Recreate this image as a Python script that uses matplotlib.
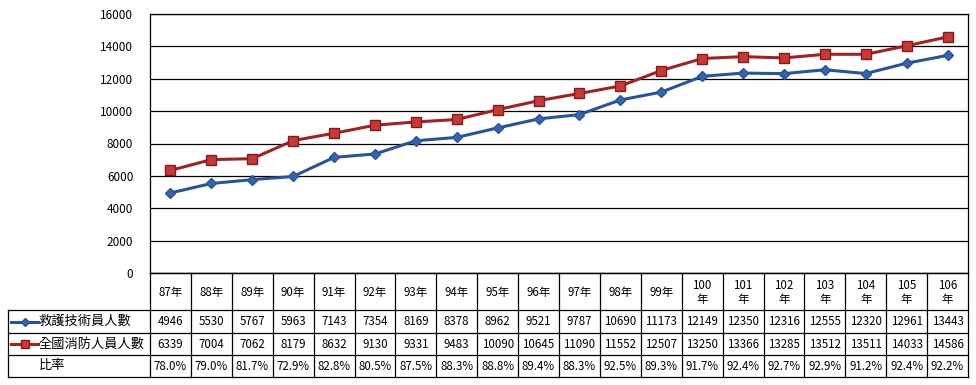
import matplotlib.pyplot as plt
from matplotlib.lines import Line2D

plt.rcParams['font.family'] = ['Noto Sans CJK TC', 'DejaVu Sans']

years = ['87年', '88年', '89年', '90年', '91年', '92年', '93年', '94年', '95年', '96年',
         '97年', '98年', '99年', '100\n年', '101\n年', '102\n年', '103\n年', '104\n年',
         '105\n年', '106\n年']
rescue = [4946, 5530, 5767, 5963, 7143, 7354, 8169, 8378, 8962, 9521,
          9787, 10690, 11173, 12149, 12350, 12316, 12555, 12320, 12961, 13443]
fire = [6339, 7004, 7062, 8179, 8632, 9130, 9331, 9483, 10090, 10645,
        11090, 11552, 12507, 13250, 13366, 13285, 13512, 13511, 14033, 14586]
ratio = ['78.0%', '79.0%', '81.7%', '72.9%', '82.8%', '80.5%', '87.5%', '88.3%', '88.8%', '89.4%',
         '88.3%', '92.5%', '89.3%', '91.7%', '92.4%', '92.7%', '92.9%', '91.2%', '92.4%', '92.2%']
series_names = ['救護技術員人數', '全國消防人員人數', '比率']

W, H = 976, 385
left, right, top, bottom = 150, 968, 14, 273
blue = '#2a5496'
red = '#9c2424'

fig = plt.figure(figsize=(W / 100, H / 100), dpi=100)
ax = fig.add_axes([left / W, 1 - bottom / H, (right - left) / W, (bottom - top) / H])

x = list(range(len(years)))
ax.plot(x, rescue, color=blue, lw=2.2, marker='D', ms=5,
        mfc='#3565ad', mec=blue, zorder=3)
ax.plot(x, fire, color=red, lw=2.2, marker='s', ms=7,
        mfc='#c23a3a', mec='#8a1a1a', zorder=3)

ax.set_xlim(-0.5, len(years) - 0.5)
ax.set_ylim(0, 16000)
ax.set_yticks(range(0, 16001, 2000))
ax.set_xticks([])
ax.tick_params(axis='y', length=0, labelsize=8.5, pad=12)
ax.grid(axis='y', color='black', lw=0.9)
for s in ax.spines.values():
    s.set_color('black')
    s.set_linewidth(0.9)

# data table under the plot, in pixel coordinates
tab = fig.add_axes([0, 0, 1, 1])
tab.set_xlim(0, W)
tab.set_ylim(H, 0)
tab.axis('off')

rows = [273, 310, 333, 355, 377]
label_left = 8
colw = (right - left) / len(years)
lc = dict(color='black', lw=0.9)
fs = 8.3

tab.plot([left, right], [rows[0], rows[0]], **lc)
for r in rows[1:]:
    tab.plot([label_left, right], [r, r], **lc)
for i in range(len(years) + 1):
    xc = left + i * colw
    tab.plot([xc, xc], [rows[0], rows[-1]], **lc)
tab.plot([label_left, label_left], [rows[1], rows[-1]], **lc)

for i, yr in enumerate(years):
    cx = left + (i + 0.5) * colw
    tab.text(cx, (rows[0] + rows[1]) / 2 + 1, yr, ha='center', va='center',
             fontsize=fs, linespacing=1.15)
    tab.text(cx, (rows[1] + rows[2]) / 2, str(rescue[i]), ha='center', va='center', fontsize=fs)
    tab.text(cx, (rows[2] + rows[3]) / 2, str(fire[i]), ha='center', va='center', fontsize=fs)
    tab.text(cx, (rows[3] + rows[4]) / 2, ratio[i], ha='center', va='center', fontsize=fs)

# legend keys inside the label column
ry1 = (rows[1] + rows[2]) / 2
ry2 = (rows[2] + rows[3]) / 2
ry3 = (rows[3] + rows[4]) / 2
tab.add_line(Line2D([11, 38], [ry1, ry1], color=blue, lw=2.2))
tab.plot([24.5], [ry1], marker='D', ms=4.5, mfc='#3565ad', mec=blue)
tab.add_line(Line2D([11, 38], [ry2, ry2], color=red, lw=2.2))
tab.plot([24.5], [ry2], marker='s', ms=6, mfc='#c23a3a', mec='#8a1a1a')
tab.text(39, ry1, series_names[0], ha='left', va='center', fontsize=9.5)
tab.text(39, ry2, series_names[1], ha='left', va='center', fontsize=9.5)
tab.text(39, ry3, series_names[2], ha='left', va='center', fontsize=9.5)

fig.savefig('out.png', dpi=100)
